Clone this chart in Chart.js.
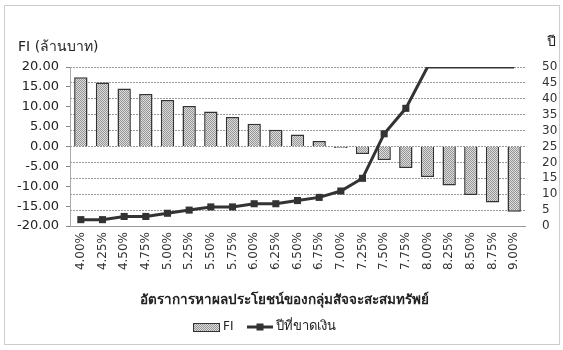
<!DOCTYPE html>
<html>
<head>
<meta charset="utf-8">
<script src="https://cdn.jsdelivr.net/npm/chart.js@4/dist/chart.umd.min.js"></script>
<style>
  html, body { margin: 0; padding: 0; background: #ffffff; }
  #wrap { width: 563px; height: 350px; position: relative; }
</style>
</head>
<body>
<div id="wrap"><canvas id="c" width="563" height="350"></canvas></div>
<script>
// Return rates of the savings group
const rates = ['4.00%','4.25%','4.50%','4.75%','5.00%','5.25%','5.50%','5.75%','6.00%','6.25%','6.50%',
               '6.75%','7.00%','7.25%','7.50%','7.75%','8.00%','8.25%','8.50%','8.75%','9.00%'];
// FI (million baht)
const fiValues = [17.4, 16.1, 14.6, 13.2, 11.7, 10.2, 8.8, 7.4, 5.7, 4.2, 3.0,
                  1.4, -0.4, -1.9, -3.4, -5.4, -7.7, -9.8, -12.2, -14.1, -16.4];
// Year the money runs out
const yearsShort = [2, 2, 3, 3, 4, 5, 6, 6, 7, 7, 8,
                    9, 11, 15, 29, 37, 50, 50, 50, 50, 50];
// Axis ticks
const fiTicks = [20, 15, 10, 5, 0, -5, -10, -15, -20];
const yearTicks = [0, 5, 10, 15, 20, 25, 30, 35, 40, 45, 50];

const FONT = "'DejaVu Sans', 'Noto Sans', sans-serif";

// fine grey stipple used to fill the FI bars
function makeStipple(ctx) {
  const p = document.createElement('canvas');
  p.width = 2; p.height = 2;
  const g = p.getContext('2d');
  g.fillStyle = '#dcdcdc'; g.fillRect(0, 0, 2, 2);
  g.fillStyle = '#969696'; g.fillRect(0, 0, 1, 1); g.fillRect(1, 1, 1, 1);
  return ctx.createPattern(p, 'repeat');
}

const ctx = document.getElementById('c').getContext('2d');
const stipple = makeStipple(ctx);

// markers only where the line is still climbing
const markerRadius = yearsShort.map(v => (v >= 50 ? 0 : 5));

const frameAndText = {
  id: 'frameAndText',
  beforeDraw(chart) {
    const c = chart.ctx;
    c.save();
    c.fillStyle = '#fff';
    c.fillRect(0, 0, chart.width, chart.height);
    c.strokeStyle = '#9a9a9a';
    c.lineWidth = 1;
    c.setLineDash([1, 1]);
    c.strokeRect(4.5, 5.5, 555, 339);
    c.restore();
  },
  afterDraw(chart) {
    const c = chart.ctx;
    c.save();
    c.fillStyle = '#222';
    c.textBaseline = 'middle';
    c.font = "14px " + FONT;
    c.textAlign = 'left';
    c.fillText('FI (ล้านบาท)', 18, 47);
    c.fillText('ปี', 547, 42);
    c.font = "bold 13.5px " + FONT;
    c.textAlign = 'center';
    c.fillText('อัตราการหาผลประโยชน์ของกลุ่มสัจจะสะสมทรัพย์', 284, 300);

    // legend
    const ly = 327;
    c.fillStyle = stipple;
    c.fillRect(193, ly - 4, 26, 8);
    c.strokeStyle = '#333';
    c.lineWidth = 1;
    c.strokeRect(193.5, ly - 3.5, 26, 8);
    c.fillStyle = '#222';
    c.font = "12px " + FONT;
    c.textAlign = 'left';
    c.fillText('FI', 223, ly);
    c.strokeStyle = '#333';
    c.lineWidth = 3;
    c.beginPath(); c.moveTo(247, ly); c.lineTo(273, ly); c.stroke();
    c.fillStyle = '#333';
    c.fillRect(256.5, ly - 3.5, 7, 7);
    c.fillStyle = '#222';
    c.font = "13px " + FONT;
    c.fillText('ปีที่ขาดเงิน', 276, ly);
    c.restore();
  }
};

new Chart(ctx, {
  data: {
    labels: rates,
    datasets: [
      {
        type: 'line',
        label: 'ปีที่ขาดเงิน',
        data: yearsShort,
        yAxisID: 'y1',
        borderColor: '#333',
        borderWidth: 3,
        pointStyle: 'rect',
        pointRadius: markerRadius,
        pointBackgroundColor: '#333',
        pointBorderColor: '#333',
        pointBorderWidth: 0,
        tension: 0,
        order: 0
      },
      {
        type: 'bar',
        label: 'FI',
        data: fiValues,
        yAxisID: 'y',
        backgroundColor: stipple,
        borderColor: '#333',
        borderWidth: 1.5,
        barPercentage: 0.65,
        categoryPercentage: 0.95,
        order: 1
      }
    ]
  },
  plugins: [frameAndText],
  options: {
    responsive: false,
    animation: false,
    events: [],
    layout: { padding: { top: 67, bottom: 34, left: 0, right: 0 } },
    plugins: { legend: { display: false }, tooltip: { enabled: false } },
    scales: {
      x: {
        grid: { display: false, drawTicks: false },
        border: { display: true, color: '#999', width: 1 },
        ticks: { minRotation: 90, maxRotation: 90, autoSkip: false, padding: 6, color: '#333',
                 font: { family: FONT, size: 12 } },
        afterFit(s) { s.height = 90; }
      },
      y: {
        position: 'left',
        min: -20, max: 20,
        afterBuildTicks(s) { s.ticks = fiTicks.map(v => ({ value: v })); },
        ticks: { autoSkip: false, padding: 7, color: '#222', font: { family: FONT, size: 13 },
                 callback: v => Number(v).toFixed(2) },
        grid: { drawOnChartArea: false, drawTicks: true, tickLength: 4, color: '#888' },
        border: { display: true, color: '#aaa' },
        afterFit(s) { s.width = 70; }
      },
      y1: {
        position: 'right',
        min: 0, max: 50,
        afterBuildTicks(s) { s.ticks = yearTicks.map(v => ({ value: v })); },
        ticks: { autoSkip: false, padding: 17, color: '#333', font: { family: FONT, size: 12 } },
        grid: { drawTicks: false, color: '#9a9a9a', lineWidth: 1 },
        border: { display: false, dash: [2, 1] },
        afterFit(s) { s.width = 38; }
      }
    }
  }
});
</script>
</body>
</html>
